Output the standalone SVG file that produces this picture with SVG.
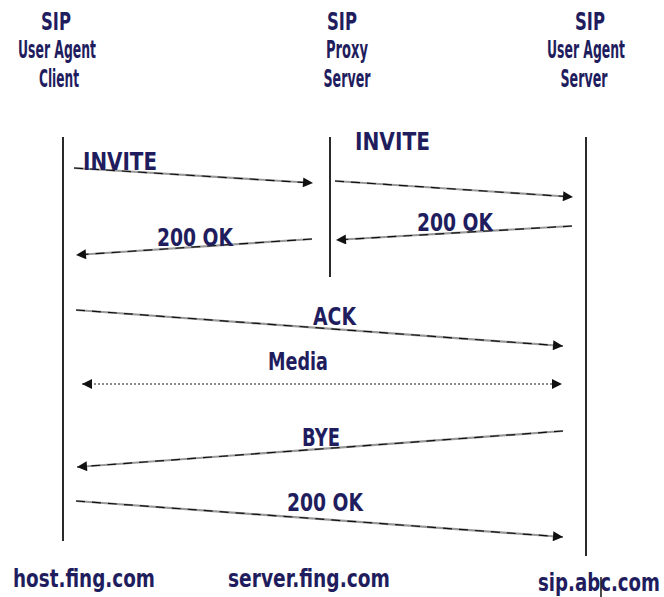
<svg xmlns="http://www.w3.org/2000/svg" width="664" height="597" viewBox="0 0 664 597">
  <defs>
    <marker id="head" viewBox="0 0 10 10" refX="10" refY="5" markerWidth="11" markerHeight="10" markerUnits="userSpaceOnUse" orient="auto-start-reverse">
      <path d="M0,0 L10,5 L0,10 z" fill="#111"/>
    </marker>
    <style>
      .lbl { font-family: "DejaVu Sans", "Liberation Sans", sans-serif; font-weight: bold; fill: #1f1d5e; }
      .hdr { font-size: 24px; text-anchor: middle; }
      .end { text-anchor: end; }
      .msgtxt { font-size: 25px; }
      .host { font-size: 25px; }
      .life { stroke: #2a2a2a; stroke-width: 2; fill: none; }
      .base { stroke: #9a9a9a; stroke-width: 2.2; fill: none; }
      .dash { stroke: #111; stroke-width: 1.2; stroke-dasharray: 9 7; fill: none; }
      .media { stroke: #8a8a8a; stroke-width: 2; stroke-dasharray: 2 2; fill: none; }
    </style>
  </defs>
  <rect width="664" height="597" fill="#fff"/>

  <!-- participants -->
  <g id="uac">
    <text class="lbl hdr" x="56" y="30" textLength="30" lengthAdjust="spacingAndGlyphs">SIP</text>
    <text class="lbl hdr" x="57" y="58" textLength="78" lengthAdjust="spacingAndGlyphs">User Agent</text>
    <text class="lbl hdr" x="59" y="87" textLength="40" lengthAdjust="spacingAndGlyphs">Client</text>
    <line class="life" x1="63" y1="137" x2="63" y2="541"/>
    <text class="lbl host" x="13" y="587" textLength="142" lengthAdjust="spacingAndGlyphs">host.fing.com</text>
  </g>

  <g id="proxy">
    <text class="lbl hdr" x="342" y="30" textLength="30" lengthAdjust="spacingAndGlyphs">SIP</text>
    <text class="lbl hdr" x="347" y="58" textLength="42" lengthAdjust="spacingAndGlyphs">Proxy</text>
    <text class="lbl hdr" x="347" y="87" textLength="47" lengthAdjust="spacingAndGlyphs">Server</text>
    <line class="life" x1="330" y1="137" x2="330" y2="277"/>
    <text class="lbl host" x="228" y="587" textLength="162" lengthAdjust="spacingAndGlyphs">server.fing.com</text>
  </g>

  <g id="uas">
    <text class="lbl hdr" x="590" y="30" textLength="30" lengthAdjust="spacingAndGlyphs">SIP</text>
    <text class="lbl hdr end" x="625" y="58" textLength="78" lengthAdjust="spacingAndGlyphs">User Agent</text>
    <text class="lbl hdr" x="584" y="87" textLength="47" lengthAdjust="spacingAndGlyphs">Server</text>
    <line class="life" x1="586" y1="137" x2="586" y2="556"/>
    <text class="lbl host end" x="660" y="591" textLength="122" lengthAdjust="spacingAndGlyphs">sip.abc.com</text>
    <line stroke="#111" stroke-width="1.5" x1="601" y1="577" x2="601" y2="597"/>
  </g>

  <!-- messages -->
  <g id="connectors">
    <line class="base" x1="74" y1="168" x2="306" y2="182.5"/>
    <line class="dash" x1="74" y1="168" x2="313" y2="183" marker-end="url(#head)"/>

    <line class="base" x1="335" y1="181" x2="566" y2="196.5"/>
    <line class="dash" x1="335" y1="181" x2="573" y2="197" marker-end="url(#head)"/>

    <line class="base" x1="572" y1="226" x2="343" y2="239.5"/>
    <line class="dash" x1="572" y1="226" x2="336" y2="240" marker-end="url(#head)"/>

    <line class="base" x1="312" y1="239" x2="83" y2="254.5"/>
    <line class="dash" x1="312" y1="239" x2="76" y2="255" marker-end="url(#head)"/>

    <line class="base" x1="76" y1="310" x2="556" y2="345.5"/>
    <line class="dash" x1="76" y1="310" x2="563" y2="346" marker-end="url(#head)"/>

    <line class="media" x1="82" y1="384" x2="562" y2="384" marker-start="url(#head)" marker-end="url(#head)"/>

    <line class="base" x1="563" y1="431" x2="84" y2="466.5"/>
    <line class="dash" x1="563" y1="431" x2="77" y2="467" marker-end="url(#head)"/>

    <line class="base" x1="76" y1="501" x2="556" y2="536.5"/>
    <line class="dash" x1="76" y1="501" x2="563" y2="537" marker-end="url(#head)"/>
  </g>

  <!-- message labels -->
  <g id="labels">
    <text class="lbl msgtxt" x="83" y="170" textLength="74" lengthAdjust="spacingAndGlyphs">INVITE</text>
    <text class="lbl msgtxt" x="355" y="150" textLength="75" lengthAdjust="spacingAndGlyphs">INVITE</text>
    <text class="lbl msgtxt" x="417" y="231" textLength="76" lengthAdjust="spacingAndGlyphs">200 OK</text>
    <text class="lbl msgtxt" x="157" y="246" textLength="76" lengthAdjust="spacingAndGlyphs">200 OK</text>
    <text class="lbl msgtxt" x="313" y="325" textLength="43" lengthAdjust="spacingAndGlyphs">ACK</text>
    <text class="lbl msgtxt" x="268" y="370" textLength="60" lengthAdjust="spacingAndGlyphs">Media</text>
    <text class="lbl msgtxt" x="302" y="446" textLength="38" lengthAdjust="spacingAndGlyphs">BYE</text>
    <text class="lbl msgtxt" x="287" y="511" textLength="76" lengthAdjust="spacingAndGlyphs">200 OK</text>
  </g>
</svg>
